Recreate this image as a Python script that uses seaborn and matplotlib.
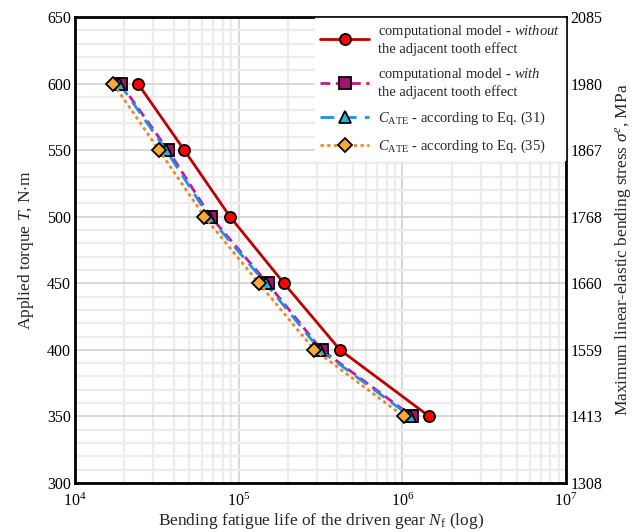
import numpy as np
import matplotlib
matplotlib.use("Agg")
import matplotlib.pyplot as plt
import seaborn as sns
from matplotlib.ticker import LogLocator, LogFormatterMathtext, MultipleLocator, NullFormatter

# Data
torque = [600, 550, 500, 450, 400, 350]
life_without = [24200, 46500, 88500, 189000, 416000, 1460000]
life_with = [19000, 37000, 67400, 150000, 321000, 1150000]
life_eq31 = [18700, 36000, 65800, 146000, 313000, 1120000]
life_eq35 = [17100, 32600, 61700, 133000, 290000, 1020000]

y_ticks = [300, 350, 400, 450, 500, 550, 600, 650]
stress_labels = ["1308", "1413", "1559", "1660", "1768", "1867", "1980", "2085"]

sns.set_theme(style="white")
plt.rcParams["font.family"] = ["Liberation Serif", "DejaVu Serif"]
plt.rcParams["mathtext.fontset"] = "custom"
plt.rcParams["mathtext.rm"] = "Liberation Serif"
plt.rcParams["mathtext.it"] = "Liberation Serif:italic"
plt.rcParams["mathtext.bf"] = "Liberation Serif:bold"

fig = plt.figure(figsize=(6.42, 5.32), dpi=100)
ax = fig.add_axes([0.1168, 0.0921, 0.765, 0.876])

# Series
sns.lineplot(x=life_without, y=torque, ax=ax, color="#C00000", lw=2, sort=False,
             marker="o", markersize=8, markerfacecolor="#FF0000", markeredgecolor="black",
             markeredgewidth=1.3,
             label="computational model - $\\it{without}$\nthe adjacent tooth effect")
sns.lineplot(x=life_with, y=torque, ax=ax, color="#C8178C", lw=2, sort=False,
             linestyle=(0, (3.5, 2)),
             marker="s", markersize=8, markerfacecolor="#A3106E", markeredgecolor="black",
             markeredgewidth=1.3,
             label="computational model - $\\it{with}$\nthe adjacent tooth effect")
sns.lineplot(x=life_eq31, y=torque, ax=ax, color="#1E8FE6", lw=2, sort=False,
             linestyle=(0, (5, 3)),
             marker="^", markersize=8, markerfacecolor="#22B5D9", markeredgecolor="black",
             markeredgewidth=1.3,
             label="$C_{\\rm ATE}$ - according to Eq. (31)")
sns.lineplot(x=life_eq35, y=torque, ax=ax, color="#F5842A", lw=2, sort=False,
             linestyle=(0, (1.2, 1.2)),
             marker="D", markersize=7.5, markerfacecolor="#F9A83A", markeredgecolor="black",
             markeredgewidth=1.3,
             label="$C_{\\rm ATE}$ - according to Eq. (35)")

ax.set_xscale("log")
ax.set_xlim(1e4, 1e7)
ax.set_ylim(300, 650)
ax.xaxis.set_major_locator(LogLocator(base=10))
ax.xaxis.set_major_formatter(LogFormatterMathtext())
ax.xaxis.set_minor_locator(LogLocator(base=10, subs=np.arange(2, 10)))
ax.xaxis.set_minor_formatter(NullFormatter())
ax.set_yticks(y_ticks)
ax.yaxis.set_minor_locator(MultipleLocator(10))

ax.grid(True, which="major", color="#d2d2d2", lw=1.2)
ax.grid(True, which="minor", color="#ececec", lw=1.6)
ax.set_axisbelow(True)
ax.tick_params(which="both", length=0, labelsize=11.5, colors="black")
ax.tick_params(axis="y", pad=3)
ax.tick_params(axis="x", pad=7)
for s in ax.spines.values():
    s.set_color("black")
    s.set_linewidth(2)

ax.set_xlabel("Bending fatigue life of the driven gear $N_{\\rm f}$ (log)", fontsize=12.5, labelpad=1)
ax.set_ylabel("Applied torque $T$, N$\\cdot$m", fontsize=12.5, labelpad=8)

# Right axis with stress values
ax2 = ax.twinx()
ax2.set_ylim(ax.get_ylim())
ax2.set_yticks(y_ticks)
ax2.set_yticklabels(stress_labels)
ax2.tick_params(length=0, labelsize=11.5, colors="black", pad=3)
ax2.grid(False)
for s in ax2.spines.values():
    s.set_visible(False)
ax2.set_ylabel("Maximum linear-elastic bending stress $\\sigma^{e}$, MPa", fontsize=12.5, labelpad=8)

leg = ax.legend(loc="upper right", fontsize=10.5, frameon=True, fancybox=False,
                framealpha=1, edgecolor="white", handlelength=3.4, labelspacing=0.72,
                borderaxespad=0.05, borderpad=0.35, handletextpad=0.6)

fig.savefig("out.png", dpi=100)
